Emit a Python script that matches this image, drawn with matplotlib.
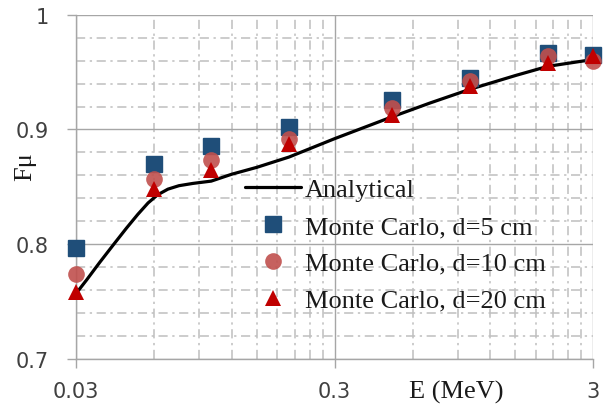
import numpy as np
import matplotlib
matplotlib.use("Agg")
import matplotlib.pyplot as plt
from matplotlib.ticker import FixedLocator, NullFormatter

# energias (MeV) de las simulaciones Monte Carlo
energias_mc = [0.03, 0.06, 0.1, 0.2, 0.5, 1.0, 2.0, 3.0]
fmu_d5 = [0.797, 0.870, 0.886, 0.902, 0.926, 0.945, 0.967, 0.965]
fmu_d10 = [0.774, 0.857, 0.873, 0.892, 0.919, 0.942, 0.964, 0.960]
fmu_d20 = [0.758, 0.848, 0.865, 0.887, 0.913, 0.938, 0.958, 0.964]

# curva analitica
energias_an = [0.03, 0.033, 0.037, 0.042, 0.047, 0.052, 0.057, 0.062, 0.068,
               0.075, 0.085, 0.1, 0.12, 0.15, 0.2, 0.3, 0.5, 0.7, 1.0, 1.5,
               2.0, 3.0]
fmu_an = [0.757, 0.769, 0.784, 0.800, 0.814, 0.826, 0.836, 0.843, 0.848,
          0.851, 0.853, 0.855, 0.861, 0.867, 0.876, 0.892, 0.911, 0.923,
          0.935, 0.947, 0.955, 0.961]

ticks_x = [0.03, 0.3, 3]
etiquetas_x = ["0.03", "0.3", "3"]
ticks_y = [0.7, 0.8, 0.9, 1.0]
etiquetas_y = ["0.7", "0.8", "0.9", "1"]

serif = "Liberation Serif"
gris_texto = "#404040"

fig = plt.figure(figsize=(6.05, 4.06), dpi=100)
ax = fig.add_axes([76 / 605, 46 / 406, 517.3 / 605, 344.3 / 406])

ax.set_xscale("log")
ax.set_xlim(0.03, 3)
ax.set_ylim(0.7, 1.0)

# rejilla menor (multiplos de 0.03 y pasos de 0.02)
menores_x = [0.03 * k for k in range(2, 10)] + [0.3 * k for k in range(2, 10)]
menores_y = [0.7 + 0.02 * k for k in range(1, 15) if k % 5 != 0]
ax.xaxis.set_major_locator(FixedLocator(ticks_x))
ax.xaxis.set_minor_locator(FixedLocator(menores_x))
ax.xaxis.set_minor_formatter(NullFormatter())
ax.set_xticklabels(etiquetas_x)
ax.yaxis.set_major_locator(FixedLocator(ticks_y))
ax.yaxis.set_minor_locator(FixedLocator(menores_y))
ax.set_yticklabels(etiquetas_y)

ax.grid(True, which="major", color="#a6a6a6", lw=1.0, ls="-")
ax.grid(True, which="minor", color="#bfbfbf", lw=1.1, ls=(0, (6, 3, 1.5, 3)))
ax.set_axisbelow(True)

for lado in ["top", "right"]:
    ax.spines[lado].set_visible(False)
for lado in ["left", "bottom"]:
    ax.spines[lado].set_color("#a6a6a6")
    ax.spines[lado].set_linewidth(1.0)

ax.tick_params(which="major", length=6.5, width=1.0, color="#a6a6a6",
               labelsize=15, labelcolor=gris_texto)
ax.tick_params(axis="y", which="major", pad=13)
ax.tick_params(axis="x", which="major", pad=9)
ax.tick_params(which="minor", length=0)

ax.plot(energias_an, fmu_an, color="black", lw=2.3, label="Analytical",
        solid_capstyle="round", solid_joinstyle="round", zorder=3)
ax.plot(energias_mc, fmu_d5, ls="none", marker="s", ms=11, color="#1f4e79",
        label="Monte Carlo, d=5 cm", clip_on=False, zorder=4)
ax.plot(energias_mc, fmu_d10, ls="none", marker="o", ms=12, color="#c0504d",
        alpha=0.9, mew=0, label="Monte Carlo, d=10 cm", clip_on=False, zorder=5)
ax.plot(energias_mc, fmu_d20, ls="none", marker="^", ms=12, color="#c00000",
        mew=0, label="Monte Carlo, d=20 cm", clip_on=False, zorder=6)

ley = ax.legend(loc="upper left", bbox_to_anchor=(0.327, 0.527), frameon=False,
                prop={"family": serif, "size": 19}, handlelength=2.1,
                handletextpad=0.15, labelspacing=0.51, borderpad=0,
                borderaxespad=0)
for t in ley.get_texts():
    t.set_color("#1a1a1a")

fig.text(25 / 605, 1 - 167 / 406, "Fμ", rotation=90, ha="center", va="center",
         family=serif, fontsize=19, color="#1a1a1a")
fig.text(456 / 605, 1 - 392 / 406, "E (MeV)", ha="center", va="center",
         family=serif, fontsize=19, color="#1a1a1a")

fig.savefig("out.png", dpi=100)
